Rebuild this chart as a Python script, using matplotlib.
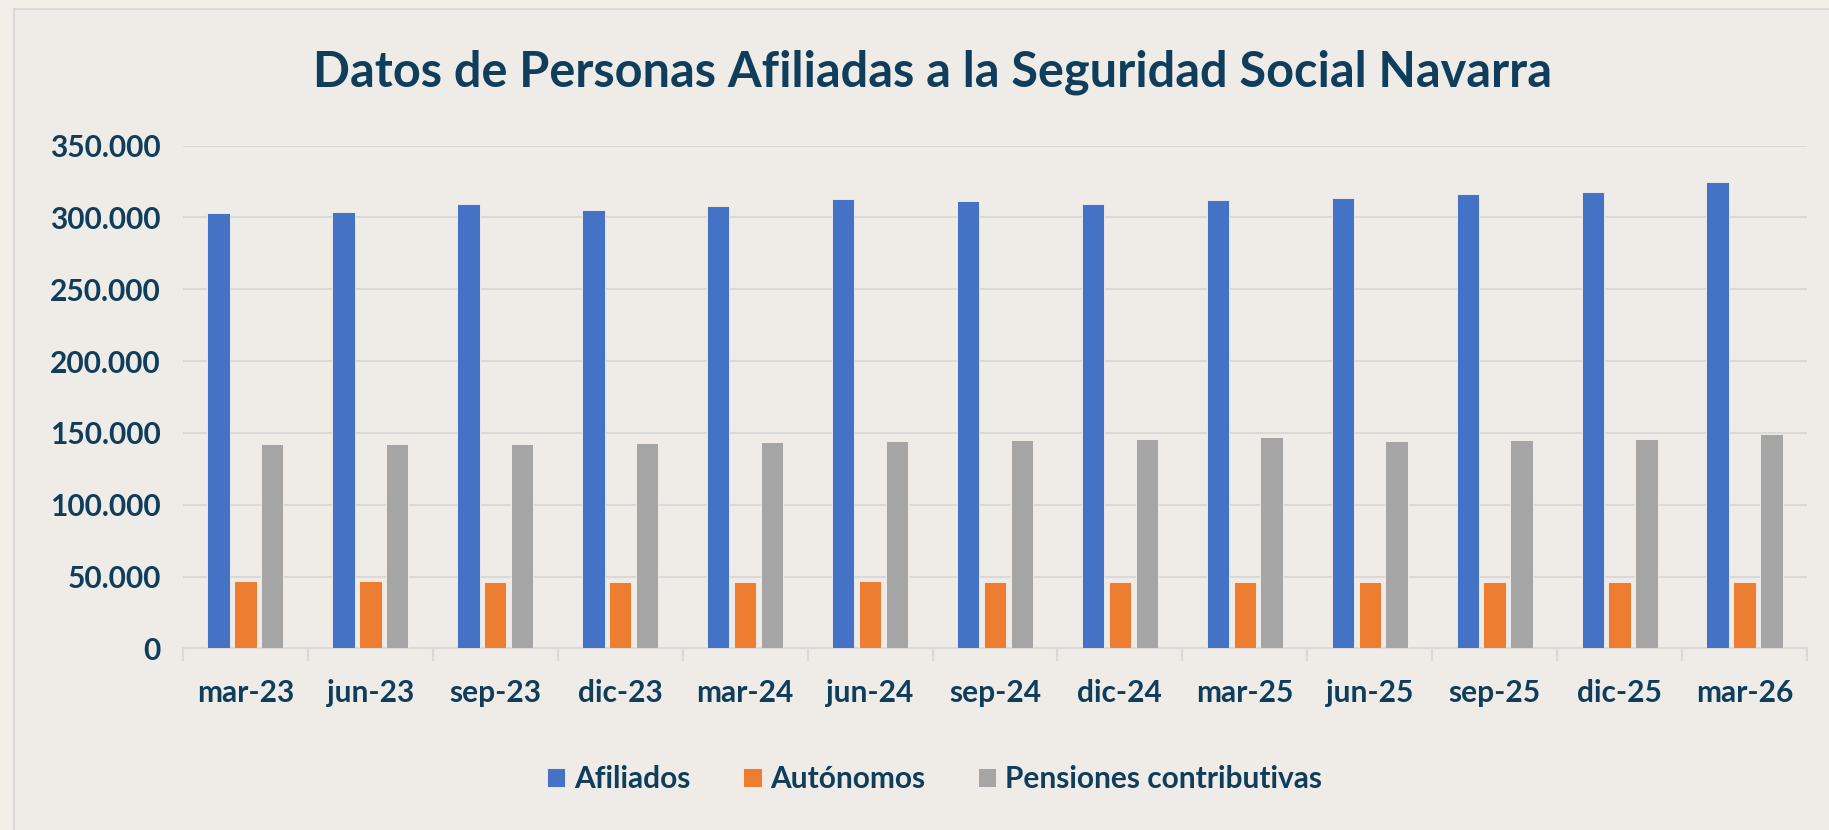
import matplotlib.pyplot as plt
import numpy as np
from matplotlib.patches import Rectangle
from matplotlib.ticker import FuncFormatter

# datos
meses = ['mar-23', 'jun-23', 'sep-23', 'dic-23', 'mar-24', 'jun-24', 'sep-24',
         'dic-24', 'mar-25', 'jun-25', 'sep-25', 'dic-25', 'mar-26']
afiliados = [303000, 303700, 309500, 305400, 308300, 313000, 311600,
             309400, 312300, 313900, 316300, 317400, 324900]
autonomos = [46900, 46900, 46000, 46000, 46000, 46700, 46000,
             46000, 46000, 46000, 46000, 46000, 46000]
pensiones = [142100, 142100, 142500, 143200, 143900, 144600, 145100,
             145600, 147000, 144400, 144900, 146000, 149100]
series = ['Afiliados', 'Autónomos', 'Pensiones contributivas']

colores = ['#4472C4', '#ED7D31', '#A5A5A5']
texto = '#0f3d5c'
fondo = '#efebe6'
fs = 21.5

plt.rcParams['font.family'] = ['Lato', 'DejaVu Sans']
plt.rcParams['font.weight'] = 'bold'

fig = plt.figure(figsize=(18.29, 8.30), dpi=100, facecolor='#f4eee8')
# marco del area del grafico
fig.patches.append(Rectangle((14 / 1829, -0.1), 1.0, 1.1 - 9 / 830,
                             transform=fig.transFigure, facecolor=fondo,
                             edgecolor='#d9d9d9', linewidth=1.5, zorder=-10))

ax = fig.add_axes([0.1, 0.2189, 0.888, 0.6056])
ax.set_zorder(1)
ax.set_facecolor(fondo)

x = np.arange(len(meses))
w = 0.18
off = 0.215
for k, (vals, c) in enumerate(zip([afiliados, autonomos, pensiones], colores)):
    ax.bar(x + (k - 1) * off, vals, width=w, color=c, label=series[k],
           edgecolor='#f6f1ec', linewidth=0.6, zorder=3)

ax.set_xlim(-0.5, len(meses) - 0.5)
ax.set_ylim(0, 350000)
ax.set_yticks(np.arange(0, 350001, 50000))
ax.yaxis.set_major_formatter(FuncFormatter(lambda v, p: f'{int(v):,}'.replace(',', '.')))
ax.grid(axis='y', color='#d9d9d9', linewidth=1.5, zorder=0)

# ticks en los limites de categoria, etiquetas en el centro
ax.set_xticks(np.arange(-0.5, len(meses), 1.0))
ax.set_xticklabels([])
ax.set_xticks(x, minor=True)
ax.set_xticklabels(meses, minor=True)
ax.tick_params(axis='x', which='major', length=9, width=1.5, color='#d9d9d9', direction='out')
ax.tick_params(axis='x', which='minor', length=0, pad=22, labelsize=fs, labelcolor=texto)
ax.tick_params(axis='y', length=0, pad=16, labelsize=fs, labelcolor=texto)

for s in ['top', 'right', 'left']:
    ax.spines[s].set_visible(False)
ax.spines['bottom'].set_color('#d9d9d9')
ax.spines['bottom'].set_linewidth(1.5)

fig.text(0.51, 1 - 72 / 830, 'Datos de Personas Afiliadas a la Seguridad Social Navarra',
         ha='center', va='center', fontsize=35, fontweight='bold', color=texto)

leg = fig.legend(loc='center', bbox_to_anchor=(0.511, 0.0614), ncol=3, frameon=False,
                 fontsize=fs, handlelength=0.62, handleheight=0.62,
                 handletextpad=0.3, columnspacing=1.75)
for t in leg.get_texts():
    t.set_color(texto)

plt.savefig('out.png', dpi=100, facecolor=fig.get_facecolor())
